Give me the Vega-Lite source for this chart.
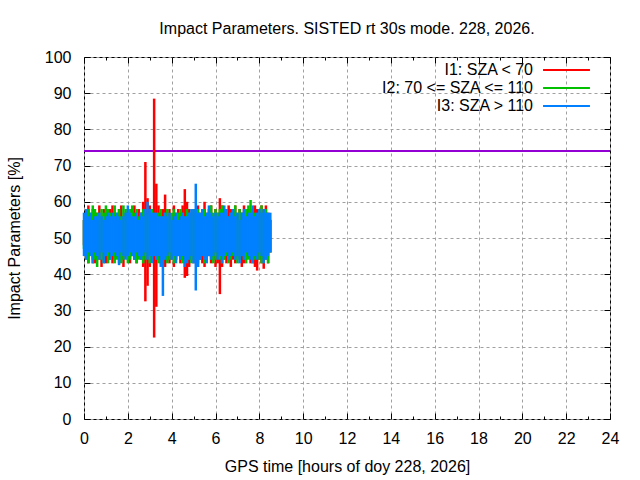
{
  "$schema": "https://vega.github.io/schema/vega-lite/v6.json",
  "width": 526,
  "height": 362,
  "autosize": "none",
  "padding": {"left": 84, "top": 57, "right": 30, "bottom": 61},
  "background": "white",
  "title": {
    "text": "Impact Parameters. SISTED rt 30s mode. 228, 2026.",
    "fontSize": 16, "fontWeight": "normal", "color": "black",
    "baseline": "alphabetic", "offset": -1
  },
  "config": {
    "font": "Liberation Sans",
    "view": {"stroke": "black", "strokeWidth": 1}
  },
  "data": {"values": [
    {"k":"I1","t":0,"lo":48,"hi":55},{"k":"I1","t":0.1,"lo":45,"hi":57},{"k":"I1","t":0.2,"lo":43,"hi":59},{"k":"I1","t":0.3,"lo":46,"hi":56},{"k":"I1","t":0.4,"lo":44,"hi":58},
    {"k":"I1","t":0.5,"lo":43,"hi":56},{"k":"I1","t":0.6,"lo":45,"hi":57},{"k":"I1","t":0.7,"lo":44,"hi":59},{"k":"I1","t":0.8,"lo":42,"hi":56},{"k":"I1","t":0.9,"lo":45,"hi":58},
    {"k":"I1","t":1.0,"lo":43,"hi":57},{"k":"I1","t":1.1,"lo":44,"hi":56},{"k":"I1","t":1.2,"lo":46,"hi":58},{"k":"I1","t":1.3,"lo":43,"hi":59},{"k":"I1","t":1.4,"lo":44,"hi":57},
    {"k":"I1","t":1.5,"lo":45,"hi":56},{"k":"I1","t":1.6,"lo":43,"hi":58},{"k":"I1","t":1.7,"lo":44,"hi":59},{"k":"I1","t":1.8,"lo":42,"hi":56},{"k":"I1","t":1.9,"lo":45,"hi":57},
    {"k":"I1","t":2.0,"lo":44,"hi":58},{"k":"I1","t":2.1,"lo":43,"hi":56},{"k":"I1","t":2.2,"lo":45,"hi":57},{"k":"I1","t":2.3,"lo":44,"hi":59},{"k":"I1","t":2.4,"lo":43,"hi":56},
    {"k":"I1","t":2.5,"lo":45,"hi":58},{"k":"I1","t":2.6,"lo":44,"hi":57},{"k":"I1","t":2.7,"lo":42,"hi":60},{"k":"I1","t":2.8,"lo":32.5,"hi":71},{"k":"I1","t":2.9,"lo":36.8,"hi":61},
    {"k":"I1","t":3.0,"lo":42,"hi":59},{"k":"I1","t":3.1,"lo":44,"hi":58},{"k":"I1","t":3.2,"lo":22.5,"hi":88.5},{"k":"I1","t":3.3,"lo":31,"hi":65},{"k":"I1","t":3.4,"lo":44,"hi":59},
    {"k":"I1","t":3.5,"lo":43,"hi":57},{"k":"I1","t":3.6,"lo":45,"hi":58},{"k":"I1","t":3.7,"lo":42,"hi":62},{"k":"I1","t":3.8,"lo":44,"hi":57},{"k":"I1","t":3.9,"lo":43,"hi":58},
    {"k":"I1","t":4.0,"lo":44,"hi":56},{"k":"I1","t":4.1,"lo":42,"hi":59},{"k":"I1","t":4.2,"lo":44,"hi":57},{"k":"I1","t":4.3,"lo":45,"hi":58},{"k":"I1","t":4.4,"lo":43,"hi":56},
    {"k":"I1","t":4.5,"lo":44,"hi":59},{"k":"I1","t":4.6,"lo":39,"hi":63.5},{"k":"I1","t":4.7,"lo":39.5,"hi":60},{"k":"I1","t":4.8,"lo":42,"hi":58},{"k":"I1","t":4.9,"lo":44,"hi":57},
    {"k":"I1","t":5.0,"lo":43,"hi":58},{"k":"I1","t":5.1,"lo":44,"hi":56},{"k":"I1","t":5.2,"lo":42,"hi":59},{"k":"I1","t":5.3,"lo":44,"hi":57},{"k":"I1","t":5.4,"lo":43,"hi":58},
    {"k":"I1","t":5.5,"lo":42,"hi":60},{"k":"I1","t":5.6,"lo":44,"hi":57},{"k":"I1","t":5.7,"lo":45,"hi":58},{"k":"I1","t":5.8,"lo":43,"hi":59},{"k":"I1","t":5.9,"lo":44,"hi":56},
    {"k":"I1","t":6.0,"lo":42,"hi":58},{"k":"I1","t":6.1,"lo":43,"hi":57},{"k":"I1","t":6.2,"lo":34.5,"hi":61},{"k":"I1","t":6.3,"lo":42,"hi":59},{"k":"I1","t":6.4,"lo":44,"hi":58},
    {"k":"I1","t":6.5,"lo":43,"hi":57},{"k":"I1","t":6.6,"lo":45,"hi":59},{"k":"I1","t":6.7,"lo":42,"hi":58},{"k":"I1","t":6.8,"lo":44,"hi":57},{"k":"I1","t":6.9,"lo":43,"hi":59},
    {"k":"I1","t":7.0,"lo":45,"hi":56},{"k":"I1","t":7.1,"lo":44,"hi":58},{"k":"I1","t":7.2,"lo":42,"hi":57},{"k":"I1","t":7.3,"lo":43,"hi":59},{"k":"I1","t":7.4,"lo":44,"hi":57},
    {"k":"I1","t":7.5,"lo":45,"hi":58},{"k":"I1","t":7.6,"lo":43,"hi":56},{"k":"I1","t":7.7,"lo":44,"hi":57},{"k":"I1","t":7.8,"lo":42,"hi":59},{"k":"I1","t":7.9,"lo":41,"hi":58},
    {"k":"I1","t":8.0,"lo":44,"hi":57},{"k":"I1","t":8.1,"lo":43,"hi":59},{"k":"I1","t":8.2,"lo":41.5,"hi":58},{"k":"I1","t":8.3,"lo":44,"hi":59},{"k":"I1","t":8.4,"lo":43,"hi":57},
    {"k":"I1","t":8.5,"lo":46,"hi":55},

    {"k":"I2","t":0,"lo":47,"hi":55},{"k":"I2","t":0.1,"lo":44,"hi":56},{"k":"I2","t":0.2,"lo":43,"hi":58},{"k":"I2","t":0.3,"lo":45,"hi":57},{"k":"I2","t":0.4,"lo":43,"hi":59},
    {"k":"I2","t":0.5,"lo":44,"hi":58},{"k":"I2","t":0.6,"lo":42,"hi":57},{"k":"I2","t":0.7,"lo":45,"hi":56},{"k":"I2","t":0.8,"lo":44,"hi":58},{"k":"I2","t":0.9,"lo":43,"hi":57},
    {"k":"I2","t":1.0,"lo":45,"hi":59},{"k":"I2","t":1.1,"lo":43,"hi":58},{"k":"I2","t":1.2,"lo":44,"hi":57},{"k":"I2","t":1.3,"lo":45,"hi":56},{"k":"I2","t":1.4,"lo":43,"hi":59},
    {"k":"I2","t":1.5,"lo":44,"hi":57},{"k":"I2","t":1.6,"lo":45,"hi":58},{"k":"I2","t":1.7,"lo":43,"hi":56},{"k":"I2","t":1.8,"lo":44,"hi":59},{"k":"I2","t":1.9,"lo":45,"hi":58},
    {"k":"I2","t":2.0,"lo":43,"hi":57},{"k":"I2","t":2.1,"lo":44,"hi":58},{"k":"I2","t":2.2,"lo":45,"hi":59},{"k":"I2","t":2.3,"lo":44,"hi":57},{"k":"I2","t":2.4,"lo":43,"hi":58},
    {"k":"I2","t":2.5,"lo":44,"hi":56},{"k":"I2","t":2.6,"lo":45,"hi":57},{"k":"I2","t":2.7,"lo":43,"hi":58},{"k":"I2","t":2.8,"lo":44,"hi":57},{"k":"I2","t":2.9,"lo":45,"hi":56},
    {"k":"I2","t":3.0,"lo":43,"hi":57},{"k":"I2","t":3.1,"lo":44,"hi":58},{"k":"I2","t":3.2,"lo":45,"hi":57},{"k":"I2","t":3.3,"lo":44,"hi":56},{"k":"I2","t":3.4,"lo":43,"hi":57},
    {"k":"I2","t":3.5,"lo":44,"hi":58},{"k":"I2","t":3.6,"lo":45,"hi":56},{"k":"I2","t":3.7,"lo":44,"hi":57},{"k":"I2","t":3.8,"lo":43,"hi":58},{"k":"I2","t":3.9,"lo":44,"hi":56},
    {"k":"I2","t":4.0,"lo":45,"hi":57},{"k":"I2","t":4.1,"lo":43,"hi":58},{"k":"I2","t":4.2,"lo":44,"hi":56},{"k":"I2","t":4.3,"lo":45,"hi":57},{"k":"I2","t":4.4,"lo":44,"hi":58},
    {"k":"I2","t":4.5,"lo":43,"hi":57},{"k":"I2","t":4.6,"lo":44,"hi":56},{"k":"I2","t":4.7,"lo":45,"hi":58},{"k":"I2","t":4.8,"lo":44,"hi":57},{"k":"I2","t":4.9,"lo":43,"hi":56},
    {"k":"I2","t":5.0,"lo":44,"hi":58},{"k":"I2","t":5.1,"lo":45,"hi":57},{"k":"I2","t":5.2,"lo":43,"hi":58},{"k":"I2","t":5.3,"lo":44,"hi":56},{"k":"I2","t":5.4,"lo":45,"hi":57},
    {"k":"I2","t":5.5,"lo":43,"hi":58},{"k":"I2","t":5.6,"lo":44,"hi":56},{"k":"I2","t":5.7,"lo":45,"hi":57},{"k":"I2","t":5.8,"lo":44,"hi":59},{"k":"I2","t":5.9,"lo":43,"hi":57},
    {"k":"I2","t":6.0,"lo":44,"hi":58},{"k":"I2","t":6.1,"lo":45,"hi":57},{"k":"I2","t":6.2,"lo":44,"hi":58},{"k":"I2","t":6.3,"lo":43,"hi":59},{"k":"I2","t":6.4,"lo":44,"hi":57},
    {"k":"I2","t":6.5,"lo":45,"hi":58},{"k":"I2","t":6.6,"lo":43,"hi":56},{"k":"I2","t":6.7,"lo":44,"hi":57},{"k":"I2","t":6.8,"lo":45,"hi":58},{"k":"I2","t":6.9,"lo":44,"hi":59},
    {"k":"I2","t":7.0,"lo":43,"hi":57},{"k":"I2","t":7.1,"lo":44,"hi":58},{"k":"I2","t":7.2,"lo":45,"hi":57},{"k":"I2","t":7.3,"lo":44,"hi":56},{"k":"I2","t":7.4,"lo":43,"hi":58},
    {"k":"I2","t":7.5,"lo":44,"hi":59},{"k":"I2","t":7.6,"lo":45,"hi":60.5},{"k":"I2","t":7.7,"lo":43,"hi":58},{"k":"I2","t":7.8,"lo":44,"hi":57},{"k":"I2","t":7.9,"lo":45,"hi":56},
    {"k":"I2","t":8.0,"lo":44,"hi":58},{"k":"I2","t":8.1,"lo":43,"hi":59},{"k":"I2","t":8.2,"lo":44,"hi":57},{"k":"I2","t":8.3,"lo":45,"hi":58},{"k":"I2","t":8.4,"lo":43,"hi":56},
    {"k":"I2","t":8.5,"lo":46,"hi":55},

    {"k":"I3","t":0,"lo":45,"hi":57},{"k":"I3","t":0.1,"lo":44,"hi":58},{"k":"I3","t":0.2,"lo":46,"hi":56},{"k":"I3","t":0.3,"lo":45,"hi":57},{"k":"I3","t":0.4,"lo":43,"hi":55},
    {"k":"I3","t":0.5,"lo":46,"hi":56},{"k":"I3","t":0.6,"lo":45,"hi":56},{"k":"I3","t":0.7,"lo":44,"hi":57},{"k":"I3","t":0.8,"lo":46,"hi":56},{"k":"I3","t":0.9,"lo":43,"hi":55},
    {"k":"I3","t":1.0,"lo":45,"hi":56},{"k":"I3","t":1.1,"lo":46,"hi":57},{"k":"I3","t":1.2,"lo":44,"hi":56},{"k":"I3","t":1.3,"lo":45,"hi":57},{"k":"I3","t":1.4,"lo":46,"hi":56},
    {"k":"I3","t":1.5,"lo":45,"hi":57},{"k":"I3","t":1.6,"lo":42.5,"hi":56},{"k":"I3","t":1.7,"lo":46,"hi":55},{"k":"I3","t":1.8,"lo":45,"hi":56},{"k":"I3","t":1.9,"lo":44,"hi":57},
    {"k":"I3","t":2.0,"lo":45,"hi":59},{"k":"I3","t":2.1,"lo":46,"hi":57},{"k":"I3","t":2.2,"lo":45,"hi":56},{"k":"I3","t":2.3,"lo":44,"hi":56},{"k":"I3","t":2.4,"lo":46,"hi":57},
    {"k":"I3","t":2.5,"lo":45,"hi":55},{"k":"I3","t":2.6,"lo":44,"hi":57},{"k":"I3","t":2.7,"lo":45,"hi":56},{"k":"I3","t":2.8,"lo":46,"hi":58},{"k":"I3","t":2.9,"lo":44,"hi":60},
    {"k":"I3","t":3.0,"lo":45,"hi":58},{"k":"I3","t":3.1,"lo":43,"hi":57},{"k":"I3","t":3.2,"lo":45,"hi":57},{"k":"I3","t":3.3,"lo":44,"hi":57},{"k":"I3","t":3.4,"lo":45,"hi":56},
    {"k":"I3","t":3.5,"lo":42,"hi":56},{"k":"I3","t":3.6,"lo":34,"hi":56},{"k":"I3","t":3.7,"lo":44,"hi":57},{"k":"I3","t":3.8,"lo":45,"hi":56},{"k":"I3","t":3.9,"lo":46,"hi":57},
    {"k":"I3","t":4.0,"lo":44,"hi":55},{"k":"I3","t":4.1,"lo":45,"hi":56},{"k":"I3","t":4.2,"lo":43,"hi":57},{"k":"I3","t":4.3,"lo":45,"hi":55},{"k":"I3","t":4.4,"lo":44,"hi":56},
    {"k":"I3","t":4.5,"lo":45,"hi":57},{"k":"I3","t":4.6,"lo":42,"hi":56},{"k":"I3","t":4.7,"lo":43,"hi":56},{"k":"I3","t":4.8,"lo":44,"hi":57},{"k":"I3","t":4.9,"lo":45,"hi":58},
    {"k":"I3","t":5.0,"lo":43,"hi":58},{"k":"I3","t":5.1,"lo":35.5,"hi":65},{"k":"I3","t":5.2,"lo":42,"hi":57},{"k":"I3","t":5.3,"lo":44,"hi":57},{"k":"I3","t":5.4,"lo":45,"hi":58},
    {"k":"I3","t":5.5,"lo":44,"hi":56},{"k":"I3","t":5.6,"lo":43,"hi":57},{"k":"I3","t":5.7,"lo":45,"hi":59},{"k":"I3","t":5.8,"lo":44,"hi":57},{"k":"I3","t":5.9,"lo":45,"hi":56},
    {"k":"I3","t":6.0,"lo":46,"hi":57},{"k":"I3","t":6.1,"lo":44,"hi":56},{"k":"I3","t":6.2,"lo":45,"hi":57},{"k":"I3","t":6.3,"lo":43,"hi":57},{"k":"I3","t":6.4,"lo":45,"hi":59},
    {"k":"I3","t":6.5,"lo":46,"hi":58},{"k":"I3","t":6.6,"lo":44,"hi":56},{"k":"I3","t":6.7,"lo":45,"hi":57},{"k":"I3","t":6.8,"lo":46,"hi":58},{"k":"I3","t":6.9,"lo":44,"hi":56},
    {"k":"I3","t":7.0,"lo":45,"hi":57},{"k":"I3","t":7.1,"lo":43,"hi":55},{"k":"I3","t":7.2,"lo":45,"hi":57},{"k":"I3","t":7.3,"lo":44,"hi":58},{"k":"I3","t":7.4,"lo":46,"hi":56},
    {"k":"I3","t":7.5,"lo":45,"hi":57},{"k":"I3","t":7.6,"lo":44,"hi":57},{"k":"I3","t":7.7,"lo":43,"hi":59},{"k":"I3","t":7.8,"lo":45,"hi":56},{"k":"I3","t":7.9,"lo":44,"hi":57},
    {"k":"I3","t":8.0,"lo":46,"hi":58},{"k":"I3","t":8.1,"lo":45,"hi":57},{"k":"I3","t":8.2,"lo":43,"hi":58},{"k":"I3","t":8.3,"lo":44,"hi":57},{"k":"I3","t":8.4,"lo":45,"hi":57},
    {"k":"I3","t":8.5,"lo":46,"hi":57}
  ]},
  "layer": [
    {
      "mark": {"type": "rule", "color": "#9400d3", "strokeWidth": 1},
      "encoding": {"y": {"datum": 74, "type": "quantitative", "axis": null}}
    },
    {
      "mark": {"type": "rule", "strokeWidth": 2.5},
      "encoding": {
        "x": {
          "field": "t", "type": "quantitative",
          "scale": {"domain": [0, 24], "nice": false},
          "axis": {
            "orient": "bottom",
            "values": [0, 2, 4, 6, 8, 10, 12, 14, 16, 18, 20, 22, 24],
            "grid": true, "gridColor": "#a0a0a0", "gridDash": [3, 3], "gridWidth": 1,
            "domain": false, "tickSize": -6, "tickColor": "black",
            "labelFontSize": 16, "labelColor": "black", "labelPadding": 17,
            "labelFlush": false, "labelOverlap": false,
            "title": "GPS time [hours of doy 228, 2026]",
            "titleFontSize": 16, "titleFontWeight": "normal", "titleColor": "black",
            "titleY": 47, "titleBaseline": "middle"
          }
        },
        "y": {
          "field": "lo", "type": "quantitative",
          "scale": {"domain": [0, 100], "nice": false},
          "axis": {
            "orient": "left",
            "values": [0, 10, 20, 30, 40, 50, 60, 70, 80, 90, 100],
            "grid": true, "gridColor": "#a0a0a0", "gridDash": [3, 3], "gridWidth": 1,
            "domain": false, "tickSize": -6, "tickColor": "black",
            "labelFontSize": 16, "labelColor": "black", "labelPadding": 19,
            "labelFlush": false, "labelOverlap": false,
            "title": "Impact Parameters [%]",
            "titleFontSize": 16, "titleFontWeight": "normal", "titleColor": "black",
            "titleX": -70, "titleY": 181, "titleAngle": -90,
            "titleAlign": "center", "titleBaseline": "middle"
          }
        },
        "y2": {"field": "hi"},
        "color": {
          "field": "k", "type": "nominal",
          "scale": {"domain": ["I1", "I2", "I3"], "range": ["#ff0000", "#00c000", "#0080ff"]},
          "legend": {
            "orient": "none", "legendX": 474.5, "legendY": 5,
            "title": null, "padding": 0,
            "symbolType": "M-5,0H5", "symbolSize": 88, "symbolStrokeWidth": 2,
            "labelAlign": "right", "labelOffset": -41.5, "labelFontSize": 16,
            "labelColor": "black", "labelLimit": 300, "rowPadding": 2,
            "labelExpr": "datum.label == 'I1' ? 'I1: SZA < 70' : datum.label == 'I2' ? 'I2: 70 <= SZA <= 110' : 'I3: SZA > 110'"
          }
        }
      }
    },
    {
      "transform": [{"filter": "datum.k == 'I1' && datum.t == 0"}],
      "mark": {"type": "point", "opacity": 0},
      "encoding": {
        "x": {"field": "t", "type": "quantitative",
          "axis": {"orient": "top", "values": [0, 2, 4, 6, 8, 10, 12, 14, 16, 18, 20, 22, 24],
            "grid": false, "domain": false, "labels": false, "title": null,
            "tickSize": -6, "tickColor": "black"}},
        "y": {"field": "lo", "type": "quantitative",
          "axis": {"orient": "right", "values": [0, 10, 20, 30, 40, 50, 60, 70, 80, 90, 100],
            "grid": false, "domain": false, "labels": false, "title": null,
            "tickSize": -6, "tickColor": "black"}}
      }
    },
    {
      "transform": [{"filter": "datum.k == 'I1' && datum.t == 0"}],
      "mark": {"type": "point", "opacity": 0},
      "encoding": {
        "x": {"field": "t", "type": "quantitative",
          "axis": {"orient": "bottom", "values": [1, 3, 5, 7, 9, 11, 13, 15, 17, 19, 21, 23],
            "grid": false, "domain": false, "labels": false, "title": null,
            "tickSize": -3, "tickColor": "black"}},
        "y": {"field": "lo", "type": "quantitative", "axis": null}
      }
    },
    {
      "transform": [{"filter": "datum.k == 'I1' && datum.t == 0"}],
      "mark": {"type": "point", "opacity": 0},
      "encoding": {
        "x": {"field": "t", "type": "quantitative",
          "axis": {"orient": "top", "values": [1, 3, 5, 7, 9, 11, 13, 15, 17, 19, 21, 23],
            "grid": false, "domain": false, "labels": false, "title": null,
            "tickSize": -3, "tickColor": "black"}},
        "y": {"field": "lo", "type": "quantitative", "axis": null}
      }
    }
  ],
  "resolve": {"axis": {"x": "independent", "y": "independent"}}
}
